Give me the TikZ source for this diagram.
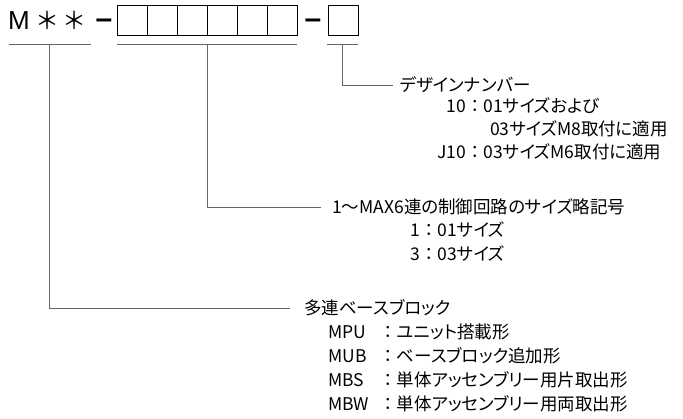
\documentclass[tikz,border=0pt]{standalone}
\usepackage{fontspec}
\setmainfont{Liberation Sans}
\newfontfamily\jpfont[RawFeature=+palt]{Noto Sans CJK JP}
\newfontfamily\jpfixed{Noto Sans CJK JP}
\newcommand{\fullcolon}{{\jpfixed ：}}
\usetikzlibrary{positioning}

\begin{document}
\begin{tikzpicture}[x=1pt, y=-1pt,
    cell/.style={rectangle, draw, line width=0.9pt, minimum size=30pt, inner sep=0pt},
    big/.style={font=\fontsize{26}{26}\selectfont, inner sep=0pt},
    star/.style={font=\jpfixed\fontsize{24}{24}\selectfont, inner sep=0pt},
    bar/.style={font=\bfseries\fontsize{30}{30}\selectfont, inner sep=0pt, anchor=base},
    lbl/.style={font=\jpfont\fontsize{17.5}{20}\selectfont, inner sep=0pt},
    head/.style={lbl, anchor=west},
    lead/.style={draw=black!60, line width=0.9pt}
]
\useasboundingbox (0,0) rectangle (683,419);

% model code
\node[big, anchor=base west] (m) at (8,29.5) {M};
\node[star] (ast1) at (47,20) {＊};
\node[star] (ast2) at (74,20) {＊};
\node[bar] (dash1) at (104,28.5) {–};
\node[cell] (c1) at (132,20) {};
\node[cell] (c2) at (162,20) {};
\node[cell] (c3) at (192,20) {};
\node[cell] (c4) at (222,20) {};
\node[cell] (c5) at (252,20) {};
\node[cell] (c6) at (282,20) {};
\node[bar] (dash2) at (313,28.5) {–};
\node[cell] (c7) at (343,20) {};

% underlines
\coordinate (u1a) at (9,44);   \coordinate (u1b) at (91,44);
\coordinate (u2a) at (117,44); \coordinate (u2b) at (297,44);
\coordinate (u3a) at (327,44); \coordinate (u3b) at (358,44);
\draw[lead] (u1a) -- (u1b);
\draw[lead] (u2a) -- (u2b);
\draw[lead] (u3a) -- (u3b);
\coordinate (s1) at (49,44);
\coordinate (s2) at (207,44);
\coordinate (s3) at (342,44);

% design number
\node[head, inner xsep=7pt] (design) at (393,85) {デザインナンバー};
\node[lbl, anchor=base east] (d10) at (466,113) {10};
\node[lbl, anchor=base west] (d10t) at (d10.base east) {\fullcolon 01サイズおよび};
\node[lbl, anchor=base west] (d03t) at (490,136) {03サイズM8取付に適用};
\node[lbl, anchor=base east] (dj10) at (466,159) {J10};
\node[lbl, anchor=base west] (dj10t) at (dj10.base east) {\fullcolon 03サイズM6取付に適用};
\draw[lead] (s3) |- (design);

% circuit size
\node[head, inner xsep=11pt] (size) at (321,207) {1～MAX6連の制御回路のサイズ略記号};
\node[lbl, anchor=base east] (s01) at (420,237) {1};
\node[lbl, anchor=base west] (s01t) at (s01.base east) {\fullcolon 01サイズ};
\node[lbl, anchor=base east] (s03) at (420,261) {3};
\node[lbl, anchor=base west] (s03t) at (s03.base east) {\fullcolon 03サイズ};
\draw[lead] (s2) |- (size);

% base block
\node[head, inner xsep=14pt] (base) at (290,308) {多連ベースブロック};
\node[lbl, anchor=base west] (mpu) at (328,339) {MPU};
\node[lbl, anchor=base west] (mput) at (379,339) {\fullcolon ユニット搭載形};
\node[lbl, anchor=base west] (mub) at (328,363) {MUB};
\node[lbl, anchor=base west] (mubt) at (379,363) {\fullcolon ベースブロック追加形};
\node[lbl, anchor=base west] (mbs) at (328,387) {MBS};
\node[lbl, anchor=base west] (mbst) at (379,387) {\fullcolon 単体アッセンブリー用片取出形};
\node[lbl, anchor=base west] (mbw) at (328,411) {MBW};
\node[lbl, anchor=base west] (mbwt) at (379,411) {\fullcolon 単体アッセンブリー用両取出形};
\draw[lead] (s1) |- (base);
\end{tikzpicture}
\end{document}
